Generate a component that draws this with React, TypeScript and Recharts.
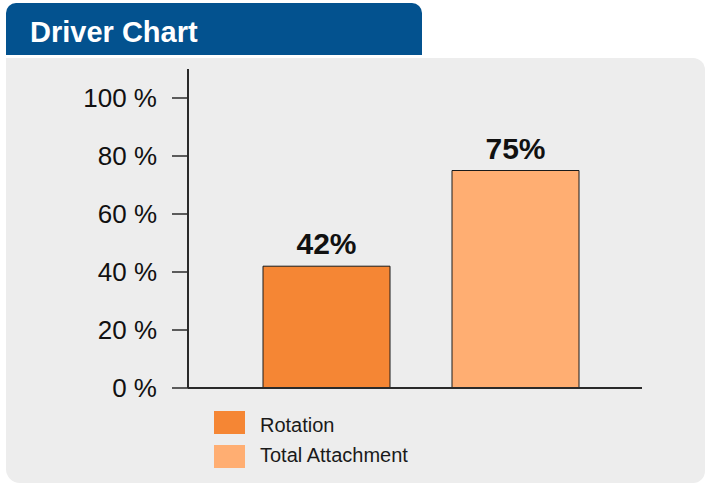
import React from 'react';
import { BarChart, Bar, XAxis, YAxis, LabelList } from 'recharts';

const categories = [''];
const rotationValues = [42];
const totalAttachmentValues = [75];
const yTicks = [0, 20, 40, 60, 80, 100];
const seriesNames = ['Rotation', 'Total Attachment'];
const seriesColors = ['#f58634', '#ffae72'];

const data = categories.map((c, i) => ({
  name: c,
  rotation: rotationValues[i],
  total: totalAttachmentValues[i],
}));

const FONT = 'Arial, "Liberation Sans", Helvetica, sans-serif';

export default function App() {
  return (
    <div style={{ position: 'absolute', left: 0, top: 0, width: 706, height: 485, background: '#fff', fontFamily: FONT }}>
      <div
        style={{
          position: 'absolute', left: 6, top: 3, width: 416, height: 52,
          background: '#03528f', borderRadius: '10px 10px 0 0',
        }}
      >
        <span style={{ position: 'absolute', left: 24, top: 12, color: '#fff', fontWeight: 'bold', fontSize: 29, lineHeight: '34px' }}>
          Driver Chart
        </span>
      </div>
      <div
        style={{
          position: 'absolute', left: 6, top: 58, width: 699, height: 425,
          background: '#ededed', borderRadius: '0 12px 12px 14px',
        }}
      />
      <div style={{ position: 'absolute', left: 0, top: 0 }}>
        <BarChart
          width={706}
          height={485}
          data={data}
          margin={{ top: 69, right: 64, bottom: 96, left: 0 }}
          barSize={127}
          barGap={62}
        >
          <XAxis
            dataKey="name"
            tick={false}
            tickLine={false}
            height={1}
            padding={{ left: 12, right: 0 }}
            axisLine={{ stroke: '#2a2a2a', strokeWidth: 2 }}
          />
          <YAxis
            width={188}
            domain={[0, 110]}
            ticks={yTicks}
            tickSize={16}
            tickMargin={15}
            tickFormatter={(v) => `${v} %`}
            tick={{ fontSize: 26, fill: '#111', fontFamily: FONT }}
            axisLine={{ stroke: '#2a2a2a', strokeWidth: 2 }}
            tickLine={{ stroke: '#2a2a2a', strokeWidth: 1.5 }}
            allowDataOverflow
          />
          <Bar dataKey="rotation" name={seriesNames[0]} fill={seriesColors[0]} stroke="#1a1a1a" strokeWidth={1} isAnimationActive={false}>
            <LabelList dataKey="rotation" position="top" offset={12} formatter={(v: number) => `${v}%`}
              style={{ fontSize: 30, fontWeight: 'bold', fill: '#111', fontFamily: FONT }} />
          </Bar>
          <Bar dataKey="total" name={seriesNames[1]} fill={seriesColors[1]} stroke="#1a1a1a" strokeWidth={1} isAnimationActive={false}>
            <LabelList dataKey="total" position="top" offset={12} formatter={(v: number) => `${v}%`}
              style={{ fontSize: 30, fontWeight: 'bold', fill: '#111', fontFamily: FONT }} />
          </Bar>
        </BarChart>
      </div>
      <div style={{ position: 'absolute', left: 214, top: 405 }}>
        {seriesNames.map((n, i) => (
          <div key={n} style={{ display: 'flex', alignItems: 'center', height: 34 }}>
            <div style={{ width: 31, height: 23, background: seriesColors[i], marginRight: 15 }} />
            <span style={{ fontSize: 20, color: '#1a1a1a', position: 'relative', top: i === 0 ? 3 : -1 }}>{n}</span>
          </div>
        ))}
      </div>
    </div>
  );
}
